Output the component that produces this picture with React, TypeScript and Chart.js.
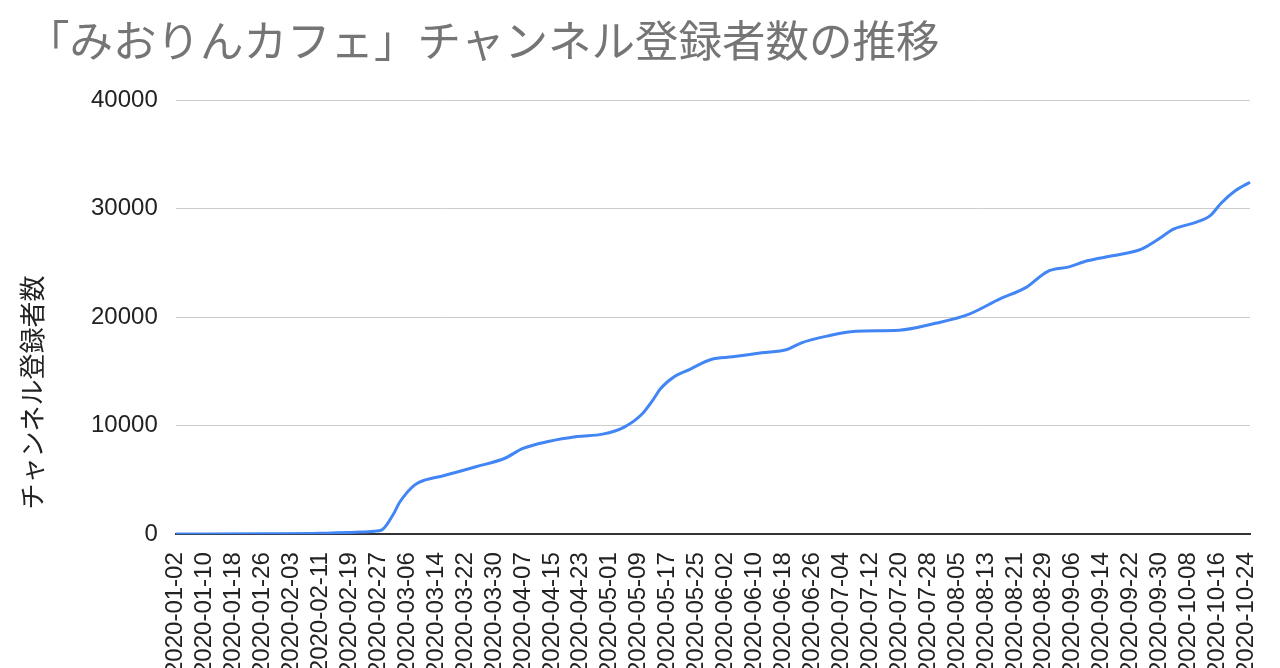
import React, { useEffect, useRef } from "react";
import { Chart, registerables } from "chart.js";

Chart.register(...registerables);

const chartTitle = "「みおりんカフェ」チャンネル登録者数の推移";
const yAxisTitle = "チャンネル登録者数";

const firstDay = "2020-01-02";
const lastDay = "2020-10-25";

const readingDates = [
  "2020-01-02", "2020-01-26", "2020-02-11", "2020-02-13", "2020-02-22", "2020-02-26",
  "2020-02-28", "2020-03-02", "2020-03-04", "2020-03-08", "2020-03-11", "2020-03-16",
  "2020-03-25", "2020-04-02", "2020-04-07", "2020-04-14", "2020-04-22", "2020-04-29",
  "2020-05-05", "2020-05-10", "2020-05-13", "2020-05-15", "2020-05-19", "2020-05-23",
  "2020-05-29", "2020-06-04", "2020-06-12", "2020-06-19", "2020-06-23", "2020-06-30",
  "2020-07-08", "2020-07-20", "2020-07-30", "2020-08-08", "2020-08-17", "2020-08-24",
  "2020-08-30", "2020-09-05", "2020-09-10", "2020-09-17", "2020-09-25", "2020-09-29",
  "2020-10-04", "2020-10-10", "2020-10-14", "2020-10-17", "2020-10-21", "2020-10-25",
];

const subscriberCounts = [
  20, 40, 80, 100, 200, 280,
  400, 1750, 2990, 4530, 5000, 5390,
  6220, 7000, 7900, 8540, 9000, 9220,
  9870, 11100, 12400, 13400, 14550, 15170,
  16100, 16340, 16710, 17020, 17630, 18250,
  18700, 18800, 19430, 20230, 21700, 22720,
  24200, 24630, 25190, 25650, 26270, 27040,
  28120, 28730, 29350, 30490, 31660, 32430,
];

const yTicks = [0, 10000, 20000, 30000, 40000];
const labelEvery = 8;

function buildDays(from: string, to: string): string[] {
  const out: string[] = [];
  const [fy, fm, fd] = from.split("-").map(Number);
  const [ty, tm, td] = to.split("-").map(Number);
  let t = Date.UTC(fy, fm - 1, fd);
  const end = Date.UTC(ty, tm - 1, td);
  while (t <= end) {
    out.push(new Date(t).toISOString().slice(0, 10));
    t += 86400000;
  }
  return out;
}

const textPlugin = {
  id: "sheetTexts",
  afterDraw(chart: any) {
    const { ctx, chartArea, height } = chart;
    ctx.save();
    ctx.fillStyle = "#757575";
    ctx.font = '43.5px "Noto Sans CJK JP"';
    ctx.textBaseline = "middle";
    ctx.textAlign = "left";
    ctx.fillText(chartTitle, 26, 40);
    ctx.fillStyle = "#222";
    ctx.font = '26px "Noto Sans CJK JP"';
    ctx.translate(32, (chartArea.top + height) / 2);
    ctx.rotate(-Math.PI / 2);
    ctx.textAlign = "center";
    ctx.fillText(yAxisTitle, 0, 0);
    ctx.restore();
  },
};

export default function App() {
  const ref = useRef<HTMLCanvasElement | null>(null);

  useEffect(() => {
    if (!ref.current) return;
    const days = buildDays(firstDay, lastDay);
    const points = readingDates.map((d, i) => ({ x: d, y: subscriberCounts[i] }));
    const chart = new Chart(ref.current, {
      type: "line",
      data: {
        labels: days,
        datasets: [
          {
            label: yAxisTitle,
            data: points as any,
            borderColor: "#4285F4",
            borderWidth: 3,
            pointRadius: 0,
            cubicInterpolationMode: "monotone",
            fill: false,
          },
        ],
      },
      options: {
        animation: false,
        responsive: true,
        maintainAspectRatio: false,
        layout: { padding: { left: 73, top: 100, right: 30, bottom: 0 } },
        plugins: {
          legend: { display: false },
          title: { display: false },
          tooltip: { enabled: false },
        },
        scales: {
          x: {
            type: "category",
            offset: false,
            grid: { display: false },
            border: { display: true, color: "#333", width: 2 },
            afterFit: (scale: any) => {
              scale.paddingRight = 0;
            },
            ticks: {
              autoSkip: false,
              maxRotation: 90,
              minRotation: 90,
              padding: 10,
              color: "#222",
              font: { family: '"Liberation Sans", Arial, sans-serif', size: 24 },
              callback: (_v: any, i: number) => (i % labelEvery === 0 ? days[i] : null),
            },
          },
          y: {
            min: yTicks[0],
            max: yTicks[yTicks.length - 1],
            afterBuildTicks: (scale: any) => {
              scale.ticks = yTicks.map((v) => ({ value: v }));
            },
            grid: { color: "#cccccc", lineWidth: 1, drawTicks: false },
            border: { display: false },
            ticks: {
              padding: 18,
              color: "#222",
              font: { family: '"Liberation Sans", Arial, sans-serif', size: 24 },
              callback: (v: any) => String(v),
            },
          },
        },
      },
      plugins: [textPlugin],
    });
    return () => chart.destroy();
  }, []);

  return (
    <div
      style={{
        position: "fixed",
        left: 0,
        top: 0,
        width: 1280,
        height: 668,
        overflow: "hidden",
        background: "#fff",
      }}
    >
      <div style={{ position: "relative", width: 1280, height: 685 }}>
        <canvas ref={ref} />
      </div>
    </div>
  );
}
